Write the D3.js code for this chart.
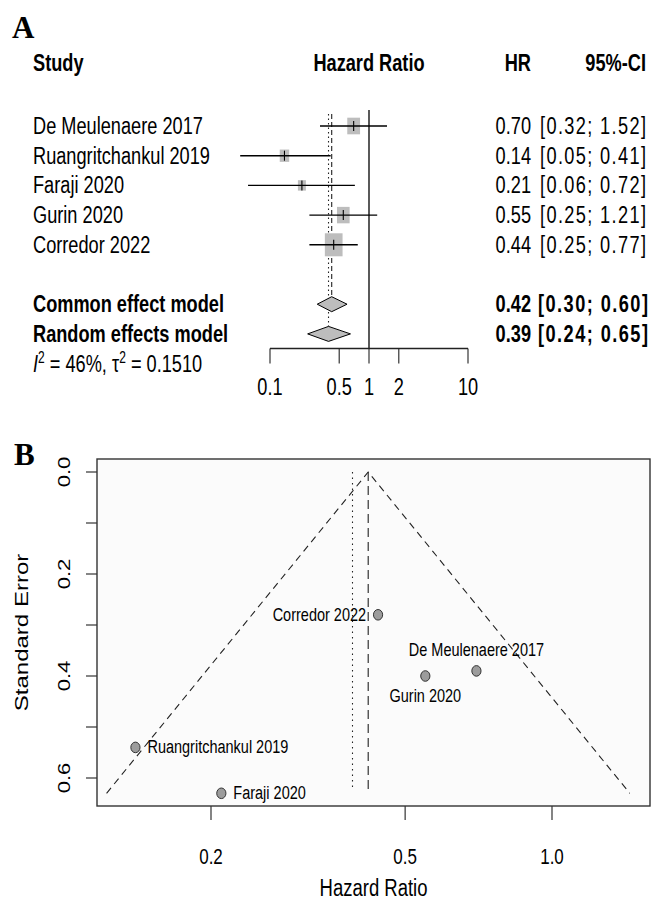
<!DOCTYPE html>
<html>
<head>
<meta charset="utf-8">
<script src="https://cdn.jsdelivr.net/npm/d3@7"></script>
<style>
	body { margin: 0; background: #fff; }
	svg { display: block; font-family: "Liberation Sans", Arial, sans-serif; }
</style>
</head>
<body>
<svg id="fig" width="667" height="906"></svg>
<script>
// study level data (panel A + B)
const studies = ["De Meulenaere 2017", "Ruangritchankul 2019", "Faraji 2020", "Gurin 2020", "Corredor 2022"];
const hr = [0.70, 0.14, 0.21, 0.55, 0.44];
const lower = [0.32, 0.05, 0.06, 0.25, 0.25];
const upper = [1.52, 0.41, 0.72, 1.21, 0.77];
const weights = [20.7, 11.3, 8.1, 20.2, 39.6];
const se = [0.39, 0.54, 0.63, 0.40, 0.28];

// pooled estimates
const models = ["Common effect model", "Random effects model"];
const modelHR = [0.42, 0.39];
const modelLower = [0.30, 0.24];
const modelUpper = [0.60, 0.65];
const i2 = "46%";
const tau2 = "0.1510";

// axis ticks
const forestTicks = [0.1, 0.5, 1, 2, 10];
const funnelXTicks = [0.2, 0.5, 1.0];
const funnelYTicks = [0, 0.1, 0.2, 0.3, 0.4, 0.5, 0.6];
const funnelYLabelled = [0, 0.2, 0.4, 0.6];

// where each study label sits in the funnel plot
const labelPos = ["top", "right", "right", "bottom", "left"];

const S = 1.3; // the figure is stretched vertically, text too
const svg = d3.select("#fig");

function txt(g, x, y, str, size, opts) {
	opts = opts || {};
	let t = g.append("text")
		.attr("transform", `translate(${x},${y}) scale(1,${S})` + (opts.rotate ? ` rotate(${opts.rotate})` : ""))
		.attr("font-size", size)
		.attr("text-anchor", opts.anchor || "start")
		.attr("font-weight", opts.bold ? "bold" : "normal")
		.attr("fill", "#000")
		.text(str);
	if (opts.length) t.attr("textLength", opts.length).attr("lengthAdjust", "spacing");
	return t;
}

// ---------------- panel A: forest plot ----------------
const fA = svg.append("g");
const fx = d3.scaleLog().domain([0.1, 10]).range([270, 468]);
const row = d3.scaleLinear().domain([0, 8]).range([126, 363.6]);
const boxW = d3.scaleSqrt().domain([0, 39.6]).range([0, 17.7]);
const FS = 18.2;

svg.append("text")
	.attr("x", 12).attr("y", 38)
	.attr("font-family", "'Liberation Serif', 'Times New Roman', serif")
	.attr("font-weight", "bold").attr("font-size", 31)
	.text("A");

txt(fA, 33, 71, "Study", FS, { bold: true });
txt(fA, fx(1), 71, "Hazard Ratio", FS, { bold: true, anchor: "middle" });
txt(fA, 531, 71, "HR", FS, { bold: true, anchor: "end" });
txt(fA, 646, 71, "95%-CI", FS, { bold: true, anchor: "end" });

// reference lines
fA.append("line")
	.attr("x1", fx(1)).attr("x2", fx(1))
	.attr("y1", 110).attr("y2", 348.5)
	.attr("stroke", "#000").attr("stroke-width", 1.3);
fA.append("line")
	.attr("x1", fx(modelHR[0])).attr("x2", fx(modelHR[0]))
	.attr("y1", 114).attr("y2", row(6) - 7.5)
	.attr("stroke", "#222").attr("stroke-width", 1.1)
	.attr("stroke-dasharray", "5,3");
fA.append("line")
	.attr("x1", fx(modelHR[1])).attr("x2", fx(modelHR[1]))
	.attr("y1", 114).attr("y2", row(7) - 7.5)
	.attr("stroke", "#222").attr("stroke-width", 1.1)
	.attr("stroke-dasharray", "1.5,3");

studies.forEach((s, i) => {
	let y = row(i);
	txt(fA, 33, y + 8, s, FS);
	txt(fA, 531, y + 8, hr[i].toFixed(2), FS, { anchor: "end" });
	txt(fA, 540, y + 8, `[${lower[i].toFixed(2)}; ${upper[i].toFixed(2)}]`, FS, { length: 106 });

	let w = boxW(weights[i]);
	fA.append("rect")
		.attr("x", fx(hr[i]) - w / 2).attr("y", y - (w * S) / 2)
		.attr("width", w).attr("height", w * S)
		.attr("fill", "#bdbdbd");
	fA.append("line")
		.attr("x1", fx(lower[i])).attr("x2", fx(upper[i]))
		.attr("y1", y).attr("y2", y)
		.attr("stroke", "#000").attr("stroke-width", 1.4);
	fA.append("line")
		.attr("x1", fx(hr[i])).attr("x2", fx(hr[i]))
		.attr("y1", y - 5).attr("y2", y + 5)
		.attr("stroke", "#000").attr("stroke-width", 1.1);
});

models.forEach((m, j) => {
	let y = row(6 + j);
	txt(fA, 33, y + 8, m, FS, { bold: true });
	txt(fA, 531, y + 8, modelHR[j].toFixed(2), FS, { bold: true, anchor: "end" });
	txt(fA, 538, y + 8, `[${modelLower[j].toFixed(2)}; ${modelUpper[j].toFixed(2)}]`, FS, { bold: true, length: 110 });
	let h = 7.5;
	fA.append("path")
		.attr("d", `M${fx(modelLower[j])},${y} L${fx(modelHR[j])},${y - h} L${fx(modelUpper[j])},${y} L${fx(modelHR[j])},${y + h} Z`)
		.attr("fill", "#bdbdbd").attr("stroke", "#000").attr("stroke-width", 1);
});

// heterogeneity line
let het = fA.append("text")
	.attr("transform", `translate(33,${row(8) + 8}) scale(1,${S})`)
	.attr("font-size", FS);
het.append("tspan").attr("font-style", "italic").text("I");
het.append("tspan").attr("font-size", 12).attr("dy", -7).text("2");
het.append("tspan").attr("dy", 7).text(` = ${i2}, \u03c4`);
het.append("tspan").attr("font-size", 12).attr("dy", -7).text("2");
het.append("tspan").attr("dy", 7).text(` = ${tau2}`);

// x axis
const fAxis = fA.append("g").attr("transform", "translate(0,348.5)");
fAxis.append("line")
	.attr("x1", fx(0.1)).attr("x2", fx(10))
	.attr("stroke", "#222").attr("stroke-width", 1.3);
fAxis.selectAll(".tk").data(forestTicks).enter().append("line")
	.attr("x1", d => fx(d)).attr("x2", d => fx(d))
	.attr("y1", 0).attr("y2", 15)
	.attr("stroke", "#222").attr("stroke-width", 1.1);
forestTicks.forEach(d => txt(fAxis, fx(d), 46, String(d), FS, { anchor: "middle" }));

// ---------------- panel B: funnel plot ----------------
const fB = svg.append("g");
const box = { left: 97, right: 650, top: 459, bottom: 806 };
const bx = d3.scaleLog().domain([0.2, 1]).range([211, 552]);
const by = d3.scaleLinear().domain([0, 0.6]).range([472, 778]);

svg.append("text")
	.attr("x", 14).attr("y", 465)
	.attr("font-family", "'Liberation Serif', 'Times New Roman', serif")
	.attr("font-weight", "bold").attr("font-size", 31)
	.text("B");

fB.append("rect")
	.attr("x", box.left).attr("y", box.top)
	.attr("width", box.right - box.left).attr("height", box.bottom - box.top)
	.attr("fill", "#fbfbfb").attr("stroke", "#333").attr("stroke-width", 1.4);

const seMax = d3.max(se);
const centre = modelHR[0];
const lo = centre * Math.exp(-1.96 * seMax);
const hi = centre * Math.exp(1.96 * seMax);

fB.append("path")
	.attr("d", `M${bx(lo)},${by(seMax)} L${bx(centre)},${by(0)} L${bx(hi)},${by(seMax)}`)
	.attr("fill", "none").attr("stroke", "#222").attr("stroke-width", 1.1)
	.attr("stroke-dasharray", "7,5");
fB.append("line")
	.attr("x1", bx(centre)).attr("x2", bx(centre))
	.attr("y1", by(0)).attr("y2", by(seMax))
	.attr("stroke", "#222").attr("stroke-width", 1.1)
	.attr("stroke-dasharray", "9,5");
fB.append("line")
	.attr("x1", bx(modelHR[1])).attr("x2", bx(modelHR[1]))
	.attr("y1", by(0)).attr("y2", by(seMax) - 5)
	.attr("stroke", "#222").attr("stroke-width", 1.1)
	.attr("stroke-dasharray", "1.5,4");

studies.forEach((s, i) => {
	let px = bx(hr[i]), py = by(se[i]);
	fB.append("ellipse")
		.attr("cx", px).attr("cy", py)
		.attr("rx", 4.6).attr("ry", 4.6 * 1.15)
		.attr("fill", "#9c9c9c").attr("stroke", "#333").attr("stroke-width", 1);
	let p = labelPos[i];
	if (p === "top") txt(fB, px, py - 15, s, 14.5, { anchor: "middle" });
	else if (p === "bottom") txt(fB, px, py + 26, s, 14.5, { anchor: "middle" });
	else if (p === "left") txt(fB, px - 12, py + 6, s, 14.5, { anchor: "end" });
	else txt(fB, px + 12, py + 6, s, 14.5);
});

// y axis
fB.selectAll(".ytk").data(funnelYTicks).enter().append("line")
	.attr("x1", box.left - 11).attr("x2", box.left)
	.attr("y1", d => by(d)).attr("y2", d => by(d))
	.attr("stroke", "#333").attr("stroke-width", 1.2);
funnelYLabelled.forEach(d => txt(fB, 70, by(d), d.toFixed(1), 17, { anchor: "middle", rotate: -90 }));
txt(fB, 28, (box.top + box.bottom) / 2, "Standard Error", 18.5, { anchor: "middle", rotate: -90 });

// x axis
fB.selectAll(".xtk").data(funnelXTicks).enter().append("line")
	.attr("x1", d => bx(d)).attr("x2", d => bx(d))
	.attr("y1", box.bottom).attr("y2", box.bottom + 14)
	.attr("stroke", "#333").attr("stroke-width", 1.2);
funnelXTicks.forEach(d => txt(fB, bx(d), 864, d.toFixed(1), 17, { anchor: "middle" }));
txt(fB, (box.left + box.right) / 2, 896, "Hazard Ratio", 18.5, { anchor: "middle" });
</script>
</body>
</html>
